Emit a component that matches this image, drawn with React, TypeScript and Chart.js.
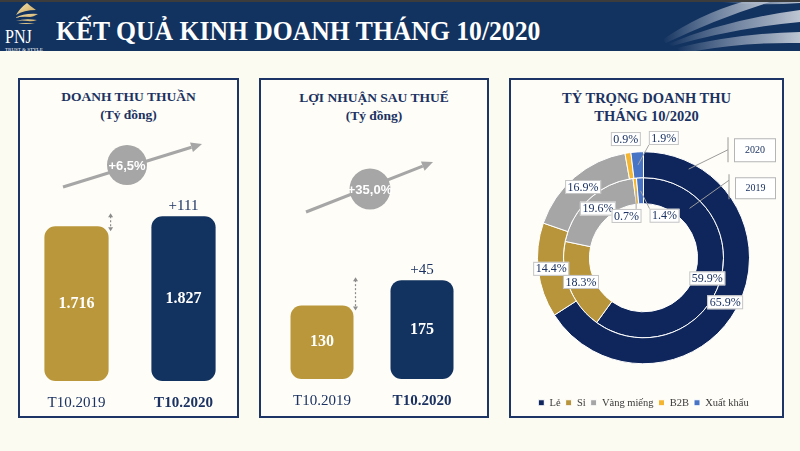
import React, { useEffect, useRef } from "react";
import { Chart, registerables } from "chart.js";

Chart.register(...registerables);

// ---------------- data ----------------
const barCategories = ["T10.2019", "T10.2020"];
const revenueValues = [1716, 1827];
const profitValues = [130, 175];
const revenueChange = "+111";
const profitChange = "+45";
const revenueGrowth = "+6,5%";
const profitGrowth = "+35,0%";

const mixCategories = ["Lẻ", "Sỉ", "Vàng miếng", "B2B", "Xuất khẩu"];
const mix2020 = [65.9, 14.4, 16.9, 0.9, 1.9];
const mix2019 = [59.9, 18.3, 19.6, 0.7, 1.4];
const mixYears = ["2020", "2019"];

// ---------------- styles ----------------
const HEADER = "#12325f";
const TEXT_NAVY = "#1b3262";
const PANEL_BORDER = "#1c3566";
const GOLD = "#b9973a";
const BAR_NAVY = "#12325f";
const mixColors = ["#0f265c", "#b8953a", "#a6a6a6", "#f4b630", "#4874c6"];
const SERIF = "'Liberation Serif', 'Times New Roman', serif";
const SANS = "'Liberation Sans', Arial, sans-serif";

function fmtThousands(v: number) {
  return String(v).replace(/\B(?=(\d{3})+(?!\d))/g, ".");
}

type BarPanelProps = {
  left: number;
  top: number;
  width: number;
  height: number;
  values: number[];
  yMax: number;
  pad: { left: number; right: number; top: number; bottom: number };
  barPct: number;
  change: string;
  growth: string;
  arrowFrom: [number, number];
  arrowTo: [number, number];
  circle: [number, number, number];
};

function BarPanel(props: BarPanelProps) {
  const ref = useRef<HTMLCanvasElement>(null);
  useEffect(() => {
    const { values, yMax, pad, barPct, change, growth, arrowFrom, arrowTo, circle } = props;
    const deco = {
      id: "barDeco",
      afterDatasetsDraw(chart: any) {
        const ctx = chart.ctx as CanvasRenderingContext2D;
        const bars = chart.getDatasetMeta(0).data as any[];
        const P = bars.map((b) => b.getProps(["x", "y", "base", "width"], true));
        ctx.save();
        // values inside the bars
        ctx.textAlign = "center";
        ctx.textBaseline = "middle";
        ctx.fillStyle = "#ffffff";
        ctx.font = `bold 16px ${SERIF}`;
        P.forEach((p, i) => ctx.fillText(fmtThousands(values[i]), p.x, (p.y + p.base) / 2));
        // change label above second bar
        ctx.fillStyle = TEXT_NAVY;
        ctx.font = `15px ${SERIF}`;
        ctx.fillText(change, P[1].x, P[1].y - 10);
        // dotted double arrow showing the gap
        const ax = P[0].x + P[0].width / 2 + 2;
        const y1 = P[1].y - 3;
        const y2 = P[0].y + 5;
        ctx.strokeStyle = "#8c8c8c";
        ctx.fillStyle = "#8c8c8c";
        ctx.lineWidth = 1.2;
        ctx.setLineDash([2, 2]);
        ctx.beginPath();
        ctx.moveTo(ax, y1 + 3);
        ctx.lineTo(ax, y2 - 3);
        ctx.stroke();
        ctx.setLineDash([]);
        ctx.beginPath();
        ctx.moveTo(ax, y1);
        ctx.lineTo(ax - 2.5, y1 + 4);
        ctx.lineTo(ax + 2.5, y1 + 4);
        ctx.closePath();
        ctx.fill();
        ctx.beginPath();
        ctx.moveTo(ax, y2);
        ctx.lineTo(ax - 2.5, y2 - 4);
        ctx.lineTo(ax + 2.5, y2 - 4);
        ctx.closePath();
        ctx.fill();
        // growth arrow
        const [fx, fy] = arrowFrom;
        const [tx, ty] = arrowTo;
        const ang = Math.atan2(ty - fy, tx - fx);
        const hl = 11;
        ctx.strokeStyle = "#a6a6a6";
        ctx.fillStyle = "#a6a6a6";
        ctx.lineWidth = 3;
        ctx.beginPath();
        ctx.moveTo(fx, fy);
        ctx.lineTo(tx - hl * Math.cos(ang), ty - hl * Math.sin(ang));
        ctx.stroke();
        ctx.beginPath();
        ctx.moveTo(tx, ty);
        ctx.lineTo(tx - hl * Math.cos(ang) + 5 * Math.sin(ang), ty - hl * Math.sin(ang) - 5 * Math.cos(ang));
        ctx.lineTo(tx - hl * Math.cos(ang) - 5 * Math.sin(ang), ty - hl * Math.sin(ang) + 5 * Math.cos(ang));
        ctx.closePath();
        ctx.fill();
        const [cx, cy, cr] = circle;
        ctx.beginPath();
        ctx.arc(cx, cy, cr, 0, Math.PI * 2);
        ctx.fill();
        ctx.fillStyle = "#ffffff";
        ctx.font = `bold 13px ${SANS}`;
        ctx.fillText(growth, cx, cy + 1);
        ctx.restore();
      },
    };
    const chart = new Chart(ref.current as HTMLCanvasElement, {
      type: "bar",
      data: {
        labels: barCategories,
        datasets: [
          {
            data: values,
            backgroundColor: [GOLD, BAR_NAVY],
            borderRadius: 11,
            borderSkipped: false,
            barPercentage: barPct,
            categoryPercentage: 1,
          },
        ],
      },
      options: {
        animation: false,
        responsive: false,
        maintainAspectRatio: false,
        layout: { padding: pad },
        plugins: { legend: { display: false }, tooltip: { enabled: false } },
        scales: {
          x: {
            grid: { display: false, drawTicks: false },
            border: { display: false },
            ticks: {
              color: TEXT_NAVY,
              padding: 13,
              maxRotation: 0,
              font: (c: any) => ({ family: SERIF, size: 15, weight: c.index === 1 ? "bold" : "normal" }),
            },
          },
          y: { display: false, min: 0, max: yMax },
        },
      },
      plugins: [deco],
    } as any);
    return () => chart.destroy();
  }, []);
  return (
    <canvas
      ref={ref}
      width={props.width}
      height={props.height}
      style={{ position: "absolute", left: props.left, top: props.top, width: props.width, height: props.height }}
    />
  );
}

function DonutPanel() {
  const ref = useRef<HTMLCanvasElement>(null);
  useEffect(() => {
    const series = [mix2020, mix2019];
    const labelPlugin = {
      id: "donutLabels",
      afterDatasetsDraw(chart: any) {
        const ctx = chart.ctx as CanvasRenderingContext2D;
        ctx.save();
        ctx.font = `12px ${SERIF}`;
        ctx.textAlign = "center";
        ctx.textBaseline = "middle";
        let center = { x: 0, y: 0 };
        const ringInfo: any[] = [];
        series.forEach((vals, d) => {
          const arcs = chart.getDatasetMeta(d).data as any[];
          const boxes: any[] = [];
          arcs.forEach((arc, i) => {
            const p = arc.getProps(["x", "y", "startAngle", "endAngle", "innerRadius", "outerRadius"], true);
            center = { x: p.x, y: p.y };
            const mid = (p.startAngle + p.endAngle) / 2;
            const text = vals[i].toFixed(1) + "%";
            const w = ctx.measureText(text).width + 5;
            const h = 14;
            const small = vals[i] < 3;
            const rm = (p.innerRadius + p.outerRadius) / 2;
            let r = rm;
            if (small) r = d === 0 ? p.outerRadius + 14 : p.innerRadius - 12;
            boxes.push({
              text, w, h, small,
              cx: p.x + r * Math.cos(mid),
              cy: p.y + r * Math.sin(mid),
              ax: p.x + rm * Math.cos(mid),
              ay: p.y + rm * Math.sin(mid),
              shifted: false,
            });
          });
          ringInfo.push(arcs.map((a) => a.getProps(["innerRadius", "outerRadius"], true)));
          // resolve overlap of the small external labels
          const sm = boxes.filter((b) => b.small);
          for (let k = 1; k < sm.length; k++) {
            const a = sm[k - 1];
            const b = sm[k];
            const need = (a.w + b.w) / 2 + 8;
            const cur = b.cx - a.cx;
            if (cur < need) {
              const sh = need - cur;
              if (d === 0) {
                b.cx += sh;
                b.shifted = true;
              } else {
                a.cx -= sh * 0.35;
                b.cx += sh * 0.65;
                a.shifted = true;
                b.shifted = true;
              }
            }
          }
          // leader lines
          ctx.strokeStyle = "#a6a6a6";
          ctx.lineWidth = 1;
          boxes.forEach((b) => {
            if (!b.shifted) return;
            const l = b.cx - b.w / 2, rgt = b.cx + b.w / 2, t = b.cy - b.h / 2, bt = b.cy + b.h / 2;
            const nx = Math.min(Math.max(b.ax, l), rgt);
            const ny = Math.min(Math.max(b.ay, t), bt);
            ctx.beginPath();
            ctx.moveTo(b.ax, b.ay);
            ctx.lineTo(nx, ny);
            ctx.stroke();
          });
          // label boxes
          boxes.forEach((b) => {
            ctx.fillStyle = "#ffffff";
            ctx.strokeStyle = "#c4c4c4";
            ctx.fillRect(b.cx - b.w / 2, b.cy - b.h / 2, b.w, b.h);
            ctx.strokeRect(b.cx - b.w / 2 + 0.5, b.cy - b.h / 2 + 0.5, b.w - 1, b.h - 1);
            ctx.fillStyle = TEXT_NAVY;
            ctx.fillText(b.text, b.cx, b.cy + 0.5);
          });
        });
        // year callouts
        const cx = center.x, cy = center.y;
        const outer0 = ringInfo[0][0];
        const inner1 = ringInfo[1][0];
        const callouts = [
          { text: mixYears[0], ang: 27, r: outer0.innerRadius + 0.75 * (outer0.outerRadius - outer0.innerRadius), lx: 84.5, ly: -108, vy: [-120.5, -95.5], box: [90.5, -119.5, 42, 24] },
          { text: mixYears[1], ang: 43, r: inner1.innerRadius + 0.52 * (inner1.outerRadius - inner1.innerRadius), lx: 85.5, ly: -77.5, vy: [-83.5, -58.5], box: [91.5, -80.5, 41, 22] },
        ];
        ctx.font = `10px ${SERIF}`;
        callouts.forEach((c) => {
          const a = (c.ang * Math.PI) / 180;
          const px = cx + c.r * Math.sin(a);
          const py = cy - c.r * Math.cos(a);
          ctx.strokeStyle = "#9a9a9a";
          ctx.lineWidth = 1;
          ctx.beginPath();
          ctx.moveTo(px, py);
          ctx.lineTo(cx + c.lx, cy + c.ly);
          ctx.moveTo(cx + c.lx, cy + c.vy[0]);
          ctx.lineTo(cx + c.lx, cy + c.vy[1]);
          ctx.stroke();
          const [bx, by, bw, bh] = c.box;
          ctx.fillStyle = "#ffffff";
          ctx.fillRect(cx + bx, cy + by, bw, bh);
          ctx.strokeStyle = "#b5b5b5";
          ctx.strokeRect(cx + bx + 0.5, cy + by + 0.5, bw - 1, bh - 1);
          ctx.fillStyle = TEXT_NAVY;
          ctx.fillText(c.text, cx + bx + bw / 2, cy + by + bh / 2 + 0.5);
        });
        ctx.restore();
      },
    };
    const chart = new Chart(ref.current as HTMLCanvasElement, {
      type: "doughnut",
      data: {
        labels: mixCategories,
        datasets: [
          { label: mixYears[0], data: mix2020, backgroundColor: mixColors, borderColor: "#ffffff", borderWidth: 1 },
          { label: mixYears[1], data: mix2019, backgroundColor: mixColors, borderColor: "#ffffff", borderWidth: 1 },
        ],
      },
      options: {
        animation: false,
        responsive: false,
        maintainAspectRatio: false,
        radius: 106,
        cutout: "51%",
        layout: { padding: { left: 0, right: 5, top: 0, bottom: 0 } },
        plugins: {
          tooltip: { enabled: false },
          legend: {
            display: true,
            position: "bottom",
            labels: {
              boxWidth: 6,
              boxHeight: 6,
              padding: 5,
              color: "#3a3a3a",
              font: { family: SERIF, size: 10.5 },
            },
          },
        },
      },
      plugins: [labelPlugin],
    } as any);
    return () => chart.destroy();
  }, []);
  return (
    <canvas
      ref={ref}
      width={270}
      height={295}
      style={{ position: "absolute", left: 511, top: 123, width: 270, height: 295 }}
    />
  );
}

const panelStyle = (left: number, width: number): React.CSSProperties => ({
  position: "absolute",
  left,
  top: 78,
  width,
  height: 340,
  boxSizing: "border-box",
  border: `2px solid ${PANEL_BORDER}`,
  background: "#fefdf7",
});

const titleStyle = (left: number, width: number, top: number, size: number): React.CSSProperties => ({
  position: "absolute",
  left,
  width,
  top,
  textAlign: "center",
  fontFamily: SERIF,
  fontWeight: "bold",
  fontSize: size,
  lineHeight: "18px",
  color: TEXT_NAVY,
});

export default function App() {
  return (
    <div
      style={{
        position: "fixed",
        left: 0,
        top: 0,
        width: 800,
        height: 451,
        overflow: "hidden",
        background: "#fcfbf2",
      }}
    >
      {/* header */}
      <div style={{ position: "absolute", left: 0, top: 0, width: 800, height: 51, background: HEADER }} />
      <div style={{ position: "absolute", left: 0, top: 0, width: 800, height: 2, background: "#3c3c3c" }} />
      <svg width={800} height={51} style={{ position: "absolute", left: 0, top: 0 }}>
        <defs>
          <linearGradient id="sw" x1="0" y1="0" x2="1" y2="0">
            <stop offset="0" stopColor="#c7cfdc" stopOpacity="0" />
            <stop offset="0.5" stopColor="#aeb9cb" stopOpacity="0.6" />
            <stop offset="1" stopColor="#d0d6df" stopOpacity="0.9" />
          </linearGradient>
          <linearGradient id="gold" x1="0" y1="0" x2="1" y2="1">
            <stop offset="0" stopColor="#f4e3b0" />
            <stop offset="1" stopColor="#c9a45a" />
          </linearGradient>
        </defs>
        <path d="M 662 40 Q 700 14 742 2 L 770 2 Q 718 18 666 43 Z" fill="url(#sw)" />
        <path d="M 668 44 Q 725 20 800 10 L 800 22 Q 735 28 672 46 Z" fill="url(#sw)" />
        <path d="M 676 48 Q 740 33 800 32 L 800 43 Q 745 42 695 51 L 680 51 Z" fill="url(#sw)" />
        <path d="M 720 2 Q 760 6 800 3 L 800 2 Z" fill="url(#sw)" />
        {/* logo feather */}
        <path d="M 27 3 Q 20 8 16 15 Q 24 10 36 10 Q 30 6 27 3 Z" fill="url(#gold)" />
        <path d="M 15 18 Q 24 13 38 14 Q 33 17 30 17 Q 22 16 15 18 Z" fill="url(#gold)" />
        <path d="M 16 21 Q 25 18 37 20 Q 32 22 28 21 Q 22 20 16 21 Z" fill="url(#gold)" />
        <path d="M 18 24 Q 26 22 35 24 Q 26 24 18 24 Z" fill="url(#gold)" />
        <text x={5} y={43} fill="#ffffff" fontFamily={SERIF} fontSize={19} transform="translate(5 0) scale(0.85 1) translate(-5 0)">
          PNJ
        </text>
        <text x={5} y={51} fill="#ffffff" fontFamily={SERIF} fontSize={5}>
          TRUST &amp; STYLE
        </text>
      </svg>
      <div
        style={{
          position: "absolute",
          left: 56,
          top: 18,
          fontFamily: SERIF,
          fontWeight: "bold",
          fontSize: 27,
          lineHeight: "27px",
          color: "#ffffff",
          whiteSpace: "nowrap",
          transform: "scaleX(0.95)",
          transformOrigin: "0 0",
        }}
      >
        KẾT QUẢ KINH DOANH THÁNG 10/2020
      </div>

      {/* panels */}
      <div style={panelStyle(18, 221)} />
      <div style={panelStyle(259, 230)} />
      <div style={panelStyle(509, 275)} />

      <div style={titleStyle(18, 221, 88, 13.5)}>
        DOANH THU THUẦN
        <br />
        (Tỷ đồng)
      </div>
      <div style={titleStyle(259, 230, 89, 13.5)}>
        LỢI NHUẬN SAU THUẾ
        <br />
        (Tỷ đồng)
      </div>
      <div style={titleStyle(509, 275, 89, 14.5)}>
        TỶ TRỌNG DOANH THU
        <br />
        THÁNG 10/2020
      </div>

      <BarPanel
        left={20}
        top={125}
        width={217}
        height={300}
        values={revenueValues}
        yMax={2340}
        pad={{ left: 3, right: 0, top: 45, bottom: 0 }}
        barPct={0.6}
        change={revenueChange}
        growth={revenueGrowth}
        arrowFrom={[43, 62]}
        arrowTo={[182, 19]}
        circle={[107, 40, 20]}
      />
      <BarPanel
        left={261}
        top={125}
        width={226}
        height={300}
        values={profitValues}
        yMax={370}
        pad={{ left: 11, right: 15, top: 45, bottom: 2 }}
        barPct={0.63}
        change={profitChange}
        growth={profitGrowth}
        arrowFrom={[45, 87]}
        arrowTo={[172, 37]}
        circle={[109, 64, 20.5]}
      />
      <DonutPanel />
    </div>
  );
}
